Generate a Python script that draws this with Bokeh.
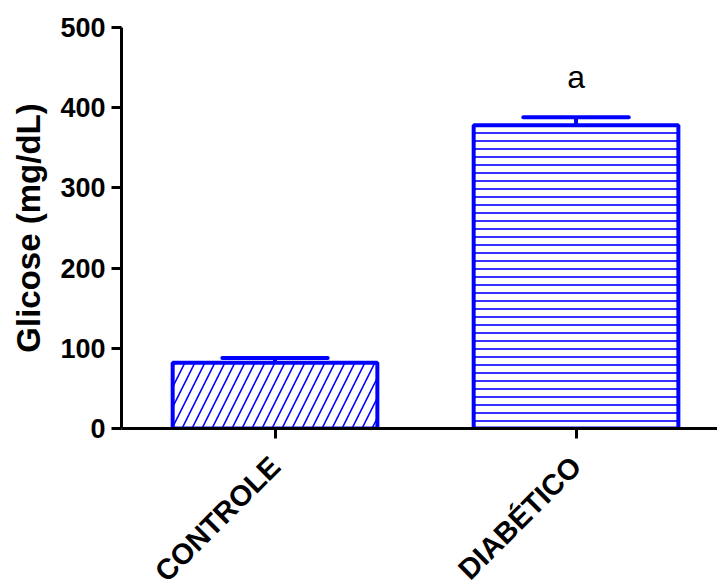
import math
from bokeh.plotting import figure
from bokeh.layouts import column
from bokeh.models import Range1d, FixedTicker, ColumnDataSource
from bokeh.core.properties import value
from bokeh.embed import file_html
from bokeh.resources import INLINE

# Blood glucose per group (mean and SEM, mg/dL)
groups = ["CONTROLE", "DIABÉTICO"]
means = [82, 378]
sems = [6, 10]
patterns = ["right_diagonal_line", "horizontal_line"]
hatch_scales = [20, 8]
letters = ["", "a"]
y_ticks = [0, 100, 200, 300, 400, 500]

xs = list(range(len(groups)))
BAR_W = 0.68
CAP_HALF = 0.175
BLUE = "#0000FF"
FONT = "Liberation Sans"

W = 717
TOP_H, NAMES_H = 445, 143          # chart panel, category-name panel
BORDER_TOP, BORDER_BOTTOM = 27, 17
Y_MAX = 500
UNITS_PER_PX = Y_MAX / (TOP_H - BORDER_TOP - BORDER_BOTTOM)
NAME_Y = -41                       # where each slanted name ends

x_range = Range1d(-0.51, 1.47)

src = ColumnDataSource(dict(
    x=xs, top=means, err_top=[m + s for m, s in zip(means, sems)],
    cap_l=[x - CAP_HALF for x in xs], cap_r=[x + CAP_HALF for x in xs],
    pat=patterns, hs=hatch_scales, lab=letters,
    lab_y=[m + s + 50 for m, s in zip(means, sems)],
))

p = figure(width=W, height=TOP_H, output_backend="svg", toolbar_location=None,
           x_range=x_range, y_range=Range1d(0, Y_MAX),
           min_border_left=121, min_border_right=0,
           min_border_top=BORDER_TOP, min_border_bottom=BORDER_BOTTOM)
p.outline_line_color = None
p.xgrid.visible = False
p.ygrid.visible = False
p.background_fill_color = "white"
p.border_fill_color = "white"

# error bars (upper half only) drawn under the bars
p.segment(x0="x", y0="top", x1="x", y1="err_top", source=src,
          line_color=BLUE, line_width=4)
p.segment(x0="cap_l", y0="err_top", x1="cap_r", y1="err_top", source=src,
          line_color=BLUE, line_width=4, line_cap="round")

p.vbar(x="x", top="top", bottom=0, width=BAR_W, source=src,
       fill_color="white", line_color=BLUE, line_width=4,
       hatch_pattern="pat", hatch_color=BLUE, hatch_scale="hs",
       hatch_weight=1.6)

p.text(x="x", y="lab_y", text="lab", source=src, text_align="center",
       text_baseline="middle", text_font=value(FONT), text_font_size="32px",
       text_color="black")

for ax in (p.xaxis[0], p.yaxis[0]):
    ax.axis_line_width = 3
    ax.axis_line_color = "black"
    ax.major_tick_line_width = 3
    ax.major_tick_line_color = "black"
    ax.major_tick_out = 10
    ax.major_tick_in = 0
    ax.minor_tick_line_color = None
    ax.major_label_text_font = FONT
    ax.major_label_text_font_style = "bold"
    ax.major_label_text_color = "black"

p.yaxis.ticker = FixedTicker(ticks=y_ticks)
p.yaxis.major_label_text_font_size = "27px"
p.yaxis.major_label_standoff = 6
p.yaxis.axis_label = "Glicose (mg/dL)"
p.yaxis.axis_label_text_font = FONT
p.yaxis.axis_label_text_font_style = "bold"
p.yaxis.axis_label_text_font_size = "33px"
p.yaxis.axis_label_text_color = "black"
p.yaxis.axis_label_standoff = 10

# category ticks only; the names go in the panel underneath
p.xaxis.ticker = FixedTicker(ticks=xs)
p.xaxis.major_label_overrides = {x: "" for x in xs}
p.xaxis.major_label_text_font_size = "1px"
p.xaxis.major_label_standoff = 0

# panel holding the slanted category names, on the same scales
y_hi = -BORDER_BOTTOM * UNITS_PER_PX
y_lo = y_hi - NAMES_H * UNITS_PER_PX
q = figure(width=W, height=NAMES_H, output_backend="svg",
           toolbar_location=None, x_range=x_range,
           y_range=Range1d(y_lo, y_hi), min_border_left=121,
           min_border_right=0, min_border_top=0, min_border_bottom=0)
q.outline_line_color = None
q.axis.visible = False
q.grid.visible = False
q.background_fill_color = "white"
q.border_fill_color = "white"
q.text(x=xs, y=[NAME_Y] * len(xs), text=groups, angle=math.pi / 4,
       text_align="right", text_baseline="middle", text_font=value(FONT),
       text_font_style="bold", text_font_size="29px", text_color="black")

layout = column(p, q, spacing=0)
open("out.html", "w").write(file_html(layout, INLINE))
